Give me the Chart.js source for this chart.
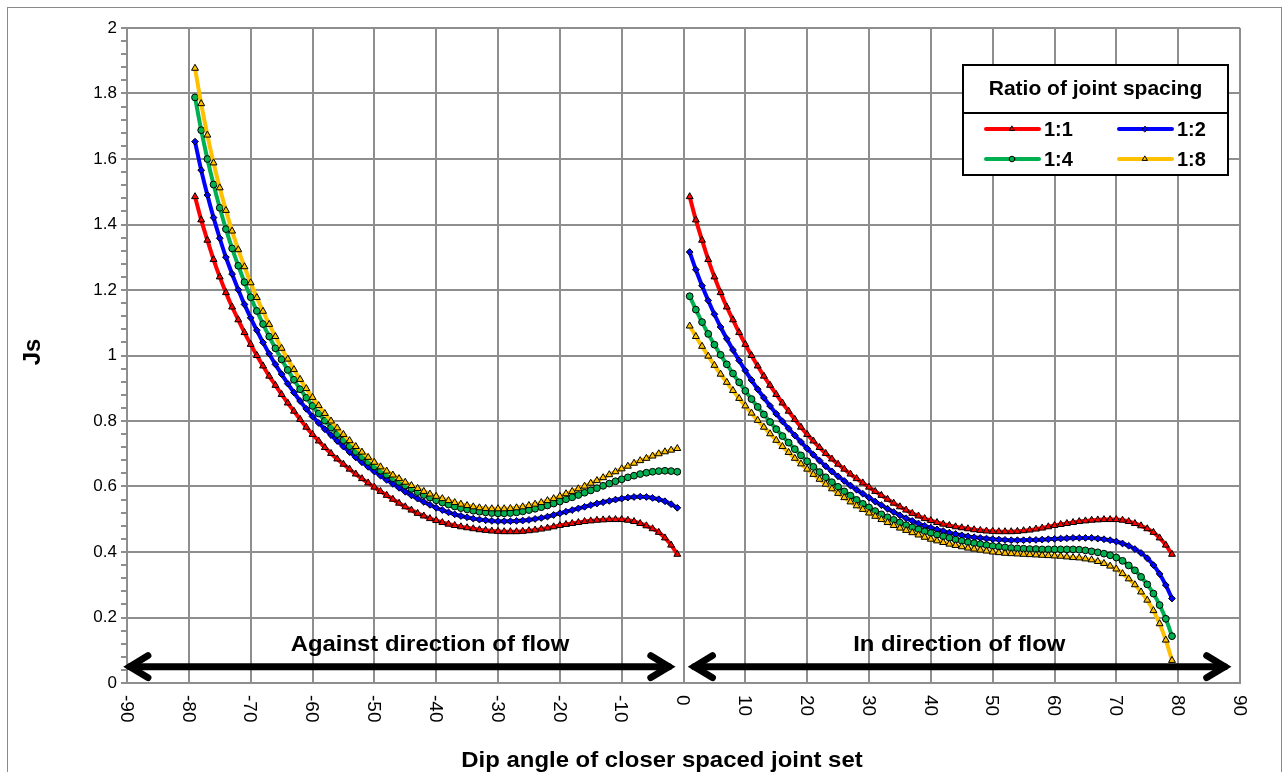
<!DOCTYPE html>
<html>
<head>
<meta charset="utf-8">
<title>Js vs dip angle</title>
<script src="https://cdn.jsdelivr.net/npm/chart.js@4.4.0/dist/chart.umd.min.js"></script>
<style>
  body { margin: 0; background: #fff; }
  #wrap { width: 1283px; height: 772px; }
</style>
</head>
<body>
<div id="wrap"><canvas id="jsChart" width="1283" height="772"></canvas></div>
<script>
// dip angles of the closer spaced joint set (degrees)
const anglesAgainst = [-79, -78, -77, -76, -75, -74, -73, -72, -71, -70,
  -69, -68, -67, -66, -65, -64, -63, -62, -61, -60,
  -59, -58, -57, -56, -55, -54, -53, -52, -51, -50,
  -49, -48, -47, -46, -45, -44, -43, -42, -41, -40,
  -39, -38, -37, -36, -35, -34, -33, -32, -31, -30,
  -29, -28, -27, -26, -25, -24, -23, -22, -21, -20,
  -19, -18, -17, -16, -15, -14, -13, -12, -11, -10,
  -9, -8, -7, -6, -5, -4, -3, -2, -1];
const anglesWith = [1, 2, 3, 4, 5, 6, 7, 8, 9, 10,
  11, 12, 13, 14, 15, 16, 17, 18, 19, 20,
  21, 22, 23, 24, 25, 26, 27, 28, 29, 30,
  31, 32, 33, 34, 35, 36, 37, 38, 39, 40,
  41, 42, 43, 44, 45, 46, 47, 48, 49, 50,
  51, 52, 53, 54, 55, 56, 57, 58, 59, 60,
  61, 62, 63, 64, 65, 66, 67, 68, 69, 70,
  71, 72, 73, 74, 75, 76, 77, 78, 79];

// Js, against direction of flow
const js11Against = [1.485, 1.414, 1.352, 1.293, 1.240, 1.192, 1.148, 1.109, 1.070, 1.034,
  1.000, 0.968, 0.937, 0.909, 0.881, 0.855, 0.830, 0.805, 0.781, 0.759,
  0.739, 0.719, 0.701, 0.684, 0.668, 0.653, 0.638, 0.624, 0.611, 0.598,
  0.585, 0.573, 0.561, 0.549, 0.538, 0.528, 0.518, 0.510, 0.502, 0.496,
  0.490, 0.485, 0.481, 0.477, 0.474, 0.471, 0.468, 0.466, 0.464, 0.463,
  0.462, 0.462, 0.462, 0.463, 0.465, 0.467, 0.470, 0.473, 0.477, 0.481,
  0.484, 0.487, 0.490, 0.493, 0.495, 0.497, 0.498, 0.499, 0.499, 0.499,
  0.497, 0.493, 0.487, 0.480, 0.471, 0.460, 0.443, 0.421, 0.393];
const js12Against = [1.653, 1.566, 1.490, 1.421, 1.358, 1.300, 1.249, 1.201, 1.156, 1.115,
  1.077, 1.040, 1.005, 0.973, 0.943, 0.914, 0.887, 0.861, 0.837, 0.814,
  0.794, 0.775, 0.757, 0.739, 0.722, 0.705, 0.689, 0.674, 0.660, 0.646,
  0.633, 0.620, 0.608, 0.596, 0.584, 0.573, 0.563, 0.553, 0.544, 0.535,
  0.528, 0.521, 0.515, 0.510, 0.506, 0.502, 0.499, 0.497, 0.495, 0.494,
  0.494, 0.494, 0.495, 0.496, 0.498, 0.501, 0.504, 0.508, 0.513, 0.518,
  0.523, 0.528, 0.533, 0.538, 0.543, 0.548, 0.552, 0.556, 0.560, 0.563,
  0.566, 0.568, 0.569, 0.568, 0.565, 0.561, 0.555, 0.546, 0.535];
const js14Against = [1.788, 1.688, 1.600, 1.522, 1.451, 1.386, 1.327, 1.274, 1.224, 1.178,
  1.136, 1.096, 1.058, 1.022, 0.988, 0.956, 0.926, 0.897, 0.871, 0.846,
  0.823, 0.801, 0.780, 0.760, 0.741, 0.723, 0.706, 0.690, 0.675, 0.661,
  0.648, 0.636, 0.625, 0.614, 0.603, 0.593, 0.583, 0.574, 0.566, 0.558,
  0.551, 0.545, 0.539, 0.534, 0.530, 0.526, 0.523, 0.521, 0.519, 0.518,
  0.518, 0.519, 0.521, 0.524, 0.528, 0.532, 0.537, 0.542, 0.548, 0.554,
  0.561, 0.567, 0.574, 0.581, 0.588, 0.595, 0.602, 0.609, 0.616, 0.622,
  0.628, 0.633, 0.638, 0.642, 0.645, 0.647, 0.648, 0.647, 0.645];
const js18Against = [1.877, 1.769, 1.673, 1.588, 1.512, 1.443, 1.380, 1.323, 1.271, 1.222,
  1.177, 1.135, 1.095, 1.058, 1.022, 0.989, 0.957, 0.927, 0.899, 0.872,
  0.847, 0.823, 0.800, 0.779, 0.759, 0.740, 0.722, 0.705, 0.689, 0.674,
  0.660, 0.647, 0.635, 0.624, 0.613, 0.603, 0.594, 0.585, 0.577, 0.570,
  0.563, 0.557, 0.551, 0.546, 0.542, 0.538, 0.535, 0.533, 0.532, 0.532,
  0.532, 0.533, 0.535, 0.538, 0.542, 0.546, 0.551, 0.557, 0.563, 0.570,
  0.578, 0.585, 0.593, 0.601, 0.610, 0.618, 0.627, 0.636, 0.645, 0.654,
  0.662, 0.671, 0.679, 0.686, 0.693, 0.700, 0.706, 0.711, 0.716];

// Js, in direction of flow
const js11With = [1.485, 1.414, 1.352, 1.293, 1.240, 1.192, 1.148, 1.109, 1.070, 1.034,
  1.000, 0.968, 0.937, 0.909, 0.881, 0.855, 0.830, 0.805, 0.781, 0.759,
  0.739, 0.719, 0.701, 0.684, 0.668, 0.653, 0.638, 0.624, 0.611, 0.598,
  0.585, 0.573, 0.561, 0.549, 0.538, 0.528, 0.518, 0.510, 0.502, 0.496,
  0.490, 0.485, 0.481, 0.477, 0.474, 0.471, 0.468, 0.466, 0.464, 0.463,
  0.462, 0.462, 0.462, 0.463, 0.465, 0.467, 0.470, 0.473, 0.477, 0.481,
  0.484, 0.487, 0.490, 0.493, 0.495, 0.497, 0.498, 0.499, 0.499, 0.499,
  0.497, 0.493, 0.487, 0.480, 0.471, 0.460, 0.443, 0.421, 0.393];
const js12With = [1.316, 1.262, 1.213, 1.168, 1.126, 1.087, 1.051, 1.017, 0.985, 0.954,
  0.925, 0.897, 0.871, 0.846, 0.822, 0.799, 0.777, 0.756, 0.736, 0.716,
  0.697, 0.679, 0.662, 0.646, 0.631, 0.617, 0.603, 0.590, 0.578, 0.566,
  0.554, 0.543, 0.532, 0.522, 0.512, 0.503, 0.495, 0.487, 0.480, 0.474,
  0.469, 0.464, 0.459, 0.455, 0.451, 0.448, 0.445, 0.443, 0.441, 0.439,
  0.438, 0.437, 0.436, 0.436, 0.436, 0.437, 0.437, 0.438, 0.439, 0.440,
  0.441, 0.442, 0.443, 0.443, 0.443, 0.443, 0.441, 0.439, 0.436, 0.432,
  0.426, 0.419, 0.409, 0.397, 0.381, 0.360, 0.333, 0.299, 0.258];
const js14With = [1.181, 1.140, 1.102, 1.066, 1.033, 1.002, 0.973, 0.945, 0.918, 0.892,
  0.867, 0.843, 0.820, 0.797, 0.775, 0.754, 0.734, 0.714, 0.695, 0.677,
  0.660, 0.644, 0.628, 0.613, 0.599, 0.585, 0.572, 0.559, 0.547, 0.536,
  0.525, 0.515, 0.506, 0.498, 0.490, 0.482, 0.475, 0.469, 0.463, 0.458,
  0.453, 0.448, 0.443, 0.438, 0.434, 0.430, 0.427, 0.424, 0.421, 0.418,
  0.416, 0.414, 0.412, 0.411, 0.410, 0.409, 0.409, 0.408, 0.408, 0.408,
  0.408, 0.408, 0.408, 0.407, 0.405, 0.402, 0.399, 0.395, 0.390, 0.383,
  0.373, 0.359, 0.344, 0.324, 0.301, 0.273, 0.238, 0.196, 0.143];
const js18With = [1.090, 1.058, 1.028, 0.998, 0.970, 0.943, 0.918, 0.893, 0.869, 0.846,
  0.824, 0.802, 0.781, 0.761, 0.741, 0.722, 0.704, 0.686, 0.669, 0.653,
  0.637, 0.622, 0.607, 0.593, 0.579, 0.566, 0.553, 0.541, 0.530, 0.519,
  0.509, 0.499, 0.490, 0.481, 0.473, 0.466, 0.459, 0.452, 0.445, 0.439,
  0.434, 0.429, 0.424, 0.420, 0.416, 0.412, 0.409, 0.406, 0.403, 0.400,
  0.398, 0.396, 0.395, 0.394, 0.393, 0.392, 0.391, 0.390, 0.389, 0.388,
  0.387, 0.385, 0.383, 0.382, 0.379, 0.376, 0.371, 0.365, 0.357, 0.348,
  0.334, 0.318, 0.300, 0.278, 0.253, 0.221, 0.181, 0.131, 0.069];

const seriesLabels = ['1:1', '1:2', '1:4', '1:8'];
const xTickValues = [-90, -80, -70, -60, -50, -40, -30, -20, -10, 0, 10, 20, 30, 40, 50, 60, 70, 80, 90];
const xTickLabels = ['-90', '-80', '-70', '-60', '-50', '-40', '-30', '-20', '-10', '0',
  '10', '20', '30', '40', '50', '60', '70', '80', '90'];

const legendTitle = 'Ratio of joint spacing';
const xTitle = 'Dip angle of closer spaced joint set';
const yTitle = 'Js';
const flowLabels = ['Against direction of flow', 'In direction of flow'];
const flowLabelX = [-41, 44.6];
const flowLabelY = 0.098;
const arrowLevel = 0.05;
const arrowSpans = [[-90.5, -1.4], [0.8, 88.5]];

const FONT = '"Liberation Sans", Arial, Helvetica, sans-serif';
const GRID = '#8e8e8e';

const styles = [
  { color: '#ff0000', point: 'triangle', radius: 4 },
  { color: '#0000ff', point: 'rectRot', radius: 3.4 },
  { color: '#00b050', point: 'circle', radius: 3.4 },
  { color: '#ffc000', point: 'triangle', radius: 4 }
];

function makeSet(angles, values, i) {
  const s = styles[i];
  return {
    label: seriesLabels[i],
    data: angles.map((a, k) => ({ x: a, y: values[k] })),
    borderColor: s.color,
    backgroundColor: s.color,
    borderWidth: 4,
    pointStyle: s.point,
    pointRadius: s.radius,
    pointBorderWidth: 1,
    pointBorderColor: '#000',
    pointBackgroundColor: s.color,
    tension: 0.3,
    order: 4 - i
  };
}

const datasets = [
  makeSet(anglesAgainst, js11Against, 0),
  makeSet(anglesAgainst, js12Against, 1),
  makeSet(anglesAgainst, js14Against, 2),
  makeSet(anglesAgainst, js18Against, 3),
  makeSet(anglesWith, js11With, 0),
  makeSet(anglesWith, js12With, 1),
  makeSet(anglesWith, js14With, 2),
  makeSet(anglesWith, js18With, 3)
];

function isMajor(v) {
  const r = v / 0.2;
  return Math.abs(r - Math.round(r)) < 1e-6;
}

// the reference text is a little wider than the font, so stretch it sideways
function wideText(ctx, text, x, y, sx) {
  ctx.save();
  ctx.translate(x, y);
  ctx.scale(sx, 1);
  ctx.fillText(text, 0, 0);
  ctx.restore();
}

// arrows and flow labels under the curves
const flowPlugin = {
  id: 'flow',
  beforeDatasetsDraw(chart) {
    const { ctx, scales: { x, y } } = chart;
    const yy = y.getPixelForValue(arrowLevel);
    ctx.save();
    ctx.strokeStyle = '#000';
    ctx.lineWidth = 7;
    ctx.lineCap = 'round';
    ctx.lineJoin = 'miter';
    ctx.miterLimit = 10;
    arrowSpans.forEach(([a, b]) => {
      const x1 = x.getPixelForValue(a) + 6;
      const x2 = x.getPixelForValue(b) - 6;
      ctx.beginPath();
      ctx.moveTo(x1, yy);
      ctx.lineTo(x2, yy);
      ctx.stroke();
      ctx.beginPath();
      ctx.moveTo(x1 + 18, yy - 11);
      ctx.lineTo(x1, yy);
      ctx.lineTo(x1 + 18, yy + 11);
      ctx.stroke();
      ctx.beginPath();
      ctx.moveTo(x2 - 18, yy - 11);
      ctx.lineTo(x2, yy);
      ctx.lineTo(x2 - 18, yy + 11);
      ctx.stroke();
    });
    ctx.fillStyle = '#000';
    ctx.font = 'bold 22px ' + FONT;
    ctx.textAlign = 'center';
    ctx.textBaseline = 'alphabetic';
    flowLabels.forEach((t, i) => {
      wideText(ctx, t, x.getPixelForValue(flowLabelX[i]), y.getPixelForValue(flowLabelY), 1.085);
    });
    ctx.restore();
  }
};

// rotated x labels, axis titles, legend box, outer frame
const decorPlugin = {
  id: 'decor',
  afterDraw(chart) {
    const { ctx, chartArea, scales: { x } } = chart;
    ctx.save();
    ctx.fillStyle = '#000';

    ctx.font = '19px ' + FONT;
    ctx.textAlign = 'left';
    ctx.textBaseline = 'middle';
    xTickValues.forEach((v, i) => {
      ctx.save();
      ctx.translate(x.getPixelForValue(v), chartArea.bottom + 12);
      ctx.rotate(Math.PI / 2);
      ctx.fillText(xTickLabels[i], 0, 1);
      ctx.restore();
    });

    ctx.font = 'bold 22px ' + FONT;
    ctx.textAlign = 'center';
    ctx.textBaseline = 'alphabetic';
    wideText(ctx, xTitle, 662, 767, 1.087);

    ctx.save();
    ctx.translate(33, 352);
    ctx.rotate(-Math.PI / 2);
    ctx.textBaseline = 'middle';
    ctx.font = 'bold 24px ' + FONT;
    ctx.fillText(yTitle, 0, 0);
    ctx.restore();

    // legend
    const bx = 963, by = 65, bw = 265, bh = 110;
    ctx.fillStyle = '#fff';
    ctx.fillRect(bx, by, bw, bh);
    ctx.strokeStyle = '#000';
    ctx.lineWidth = 2;
    ctx.strokeRect(bx, by, bw, bh);
    ctx.beginPath();
    ctx.moveTo(bx, by + 48);
    ctx.lineTo(bx + bw, by + 48);
    ctx.stroke();
    ctx.fillStyle = '#000';
    ctx.font = 'bold 21px ' + FONT;
    ctx.textAlign = 'center';
    ctx.textBaseline = 'middle';
    ctx.fillText(legendTitle, bx + bw / 2, by + 24);

    const cols = [bx + 23, bx + 156];
    const rows = [by + 64, by + 94];
    seriesLabels.forEach((lab, i) => {
      const s = styles[i];
      const lx = cols[i % 2], ly = rows[Math.floor(i / 2)];
      ctx.strokeStyle = s.color;
      ctx.lineWidth = 4;
      ctx.lineCap = 'round';
      ctx.beginPath();
      ctx.moveTo(lx, ly);
      ctx.lineTo(lx + 53, ly);
      ctx.stroke();
      ctx.fillStyle = s.color;
      ctx.strokeStyle = '#000';
      ctx.lineWidth = 1;
      Chart.helpers.drawPoint(ctx, { pointStyle: s.point, radius: 2.8, borderWidth: 1, rotation: 0 }, lx + 26, ly);
      ctx.fillStyle = '#000';
      ctx.textAlign = 'left';
      ctx.font = 'bold 20px ' + FONT;
      ctx.fillText(lab, lx + 58, ly + 1);
    });

    ctx.strokeStyle = '#8a8a8a';
    ctx.lineWidth = 1;
    ctx.strokeRect(7.5, 7.5, 1274, 800);
    ctx.restore();
  }
};

new Chart(document.getElementById('jsChart'), {
  type: 'line',
  data: { datasets: datasets },
  options: {
    responsive: false,
    animation: false,
    events: [],
    layout: { padding: { left: 0, top: 28, right: 43, bottom: 0 } },
    plugins: {
      legend: { display: false },
      tooltip: { enabled: false }
    },
    scales: {
      x: {
        type: 'linear',
        min: -90,
        max: 90,
        ticks: { stepSize: 10, display: false },
        grid: { color: GRID, lineWidth: 2, drawTicks: false },
        border: { color: GRID, width: 2 },
        afterFit(scale) { scale.height = 89; }
      },
      y: {
        min: 0,
        max: 2,
        ticks: {
          stepSize: 0.04,
          maxTicksLimit: 80,
          autoSkip: false,
          padding: 4,
          color: '#000',
          font: { family: FONT, size: 17 },
          callback(v) {
            if (!isMajor(v)) return '';
            return String(Math.round(v * 10) / 10);
          }
        },
        grid: {
          color: ctx => (ctx.tick && isMajor(ctx.tick.value)) ? GRID : 'rgba(0,0,0,0)',
          tickColor: GRID,
          lineWidth: 2,
          tickLength: 6
        },
        border: { color: GRID, width: 2 },
        afterFit(scale) { scale.width = 127; }
      }
    }
  },
  plugins: [flowPlugin, decorPlugin]
});
</script>
</body>
</html>
